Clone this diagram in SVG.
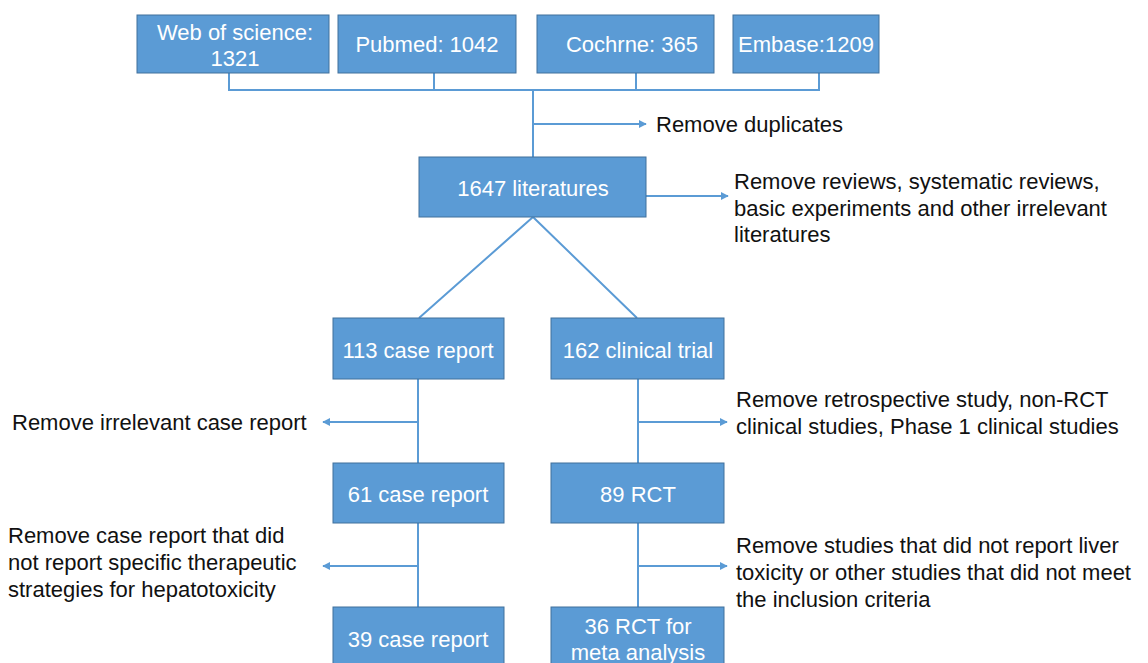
<svg xmlns="http://www.w3.org/2000/svg" width="1148" height="663" viewBox="0 0 1148 663">
<defs>
<style>
.box{fill:#5B9BD5;stroke:#41719C;stroke-width:1}
.bt{fill:#fff;font-family:"Liberation Sans",Arial,sans-serif;font-size:22px;text-anchor:middle;dominant-baseline:central}
.lt{fill:#111;font-family:"Liberation Sans",Arial,sans-serif;font-size:22px;dominant-baseline:central}
.ln{stroke:#5B9BD5;stroke-width:2;fill:none}
</style>
<marker id="ah" viewBox="0 0 10 10" refX="9" refY="5" markerWidth="4" markerHeight="4" orient="auto-start-reverse" markerUnits="strokeWidth">
<path d="M0,0 L10,5 L0,10 z" fill="#5B9BD5"/>
</marker>
</defs>
<rect width="1148" height="663" fill="#fff"/>
<g id="connectors">
<path class="ln" d="M229,73 V90 H819 V73 M434,73 V90 M636,73 V90 M533,90 V157"/>
<path class="ln" d="M533,124 H646" marker-end="url(#ah)"/>
<path class="ln" d="M646,196 H728" marker-end="url(#ah)"/>
<path class="ln" d="M533,217 L419,318 M533,217 L637,318"/>
<path class="ln" d="M418,379 V463 M418,523 V607 M638,379 V463 M638,523 V607"/>
<path class="ln" d="M418,422 H323" marker-end="url(#ah)"/>
<path class="ln" d="M638,422 H727" marker-end="url(#ah)"/>
<path class="ln" d="M418,566 H323" marker-end="url(#ah)"/>
<path class="ln" d="M638,566 H727" marker-end="url(#ah)"/>
</g>
<g id="n-wos"><rect class="box" x="137" y="15" width="192" height="58"/><text class="bt" x="235" y="32">Web of science:</text><text class="bt" x="235" y="58">1321</text></g>
<g id="n-pubmed"><rect class="box" x="338" y="15" width="178" height="58"/><text class="bt" x="427" y="44">Pubmed: 1042</text></g>
<g id="n-cochrane"><rect class="box" x="537" y="15" width="177" height="58"/><text class="bt" x="632" y="44">Cochrne: 365</text></g>
<g id="n-embase"><rect class="box" x="733" y="15" width="146" height="58"/><text class="bt" x="806" y="44">Embase:1209</text></g>
<g id="t-dup"><text class="lt" x="656" y="124">Remove duplicates</text></g>
<g id="n-1647"><rect class="box" x="419" y="157" width="227" height="60"/><text class="bt" x="533" y="188">1647 literatures</text></g>
<g id="t-rev"><text class="lt" x="734" y="181">Remove reviews, systematic reviews,</text><text class="lt" x="734" y="208">basic experiments and other irrelevant</text><text class="lt" x="734" y="234">literatures</text></g>
<g id="n-113"><rect class="box" x="333" y="318" width="171" height="61"/><text class="bt" x="418" y="350">113 case report</text></g>
<g id="n-162"><rect class="box" x="551" y="318" width="173" height="61"/><text class="bt" x="638" y="350">162 clinical trial</text></g>
<g id="t-irr"><text class="lt" x="12" y="422">Remove irrelevant case report</text></g>
<g id="t-retro"><text class="lt" x="736" y="399">Remove retrospective study, non-RCT</text><text class="lt" x="736" y="426">clinical studies, Phase 1 clinical studies</text></g>
<g id="n-61"><rect class="box" x="333" y="463" width="171" height="60"/><text class="bt" x="418" y="494">61 case report</text></g>
<g id="n-89"><rect class="box" x="551" y="463" width="173" height="60"/><text class="bt" x="638" y="494">89 RCT</text></g>
<g id="t-ther"><text class="lt" x="8" y="535">Remove case report that did</text><text class="lt" x="8" y="562">not report specific therapeutic</text><text class="lt" x="8" y="589">strategies for hepatotoxicity</text></g>
<g id="t-liver"><text class="lt" x="736" y="545">Remove studies that did not report liver</text><text class="lt" x="736" y="572">toxicity or other studies that did not meet</text><text class="lt" x="736" y="599">the inclusion criteria</text></g>
<g id="n-39"><rect class="box" x="333" y="607" width="171" height="62"/><text class="bt" x="418" y="639">39 case report</text></g>
<g id="n-36"><rect class="box" x="551" y="607" width="173" height="62"/><text class="bt" x="638" y="626">36 RCT for</text><text class="bt" x="638" y="652">meta analysis</text></g>
</svg>
